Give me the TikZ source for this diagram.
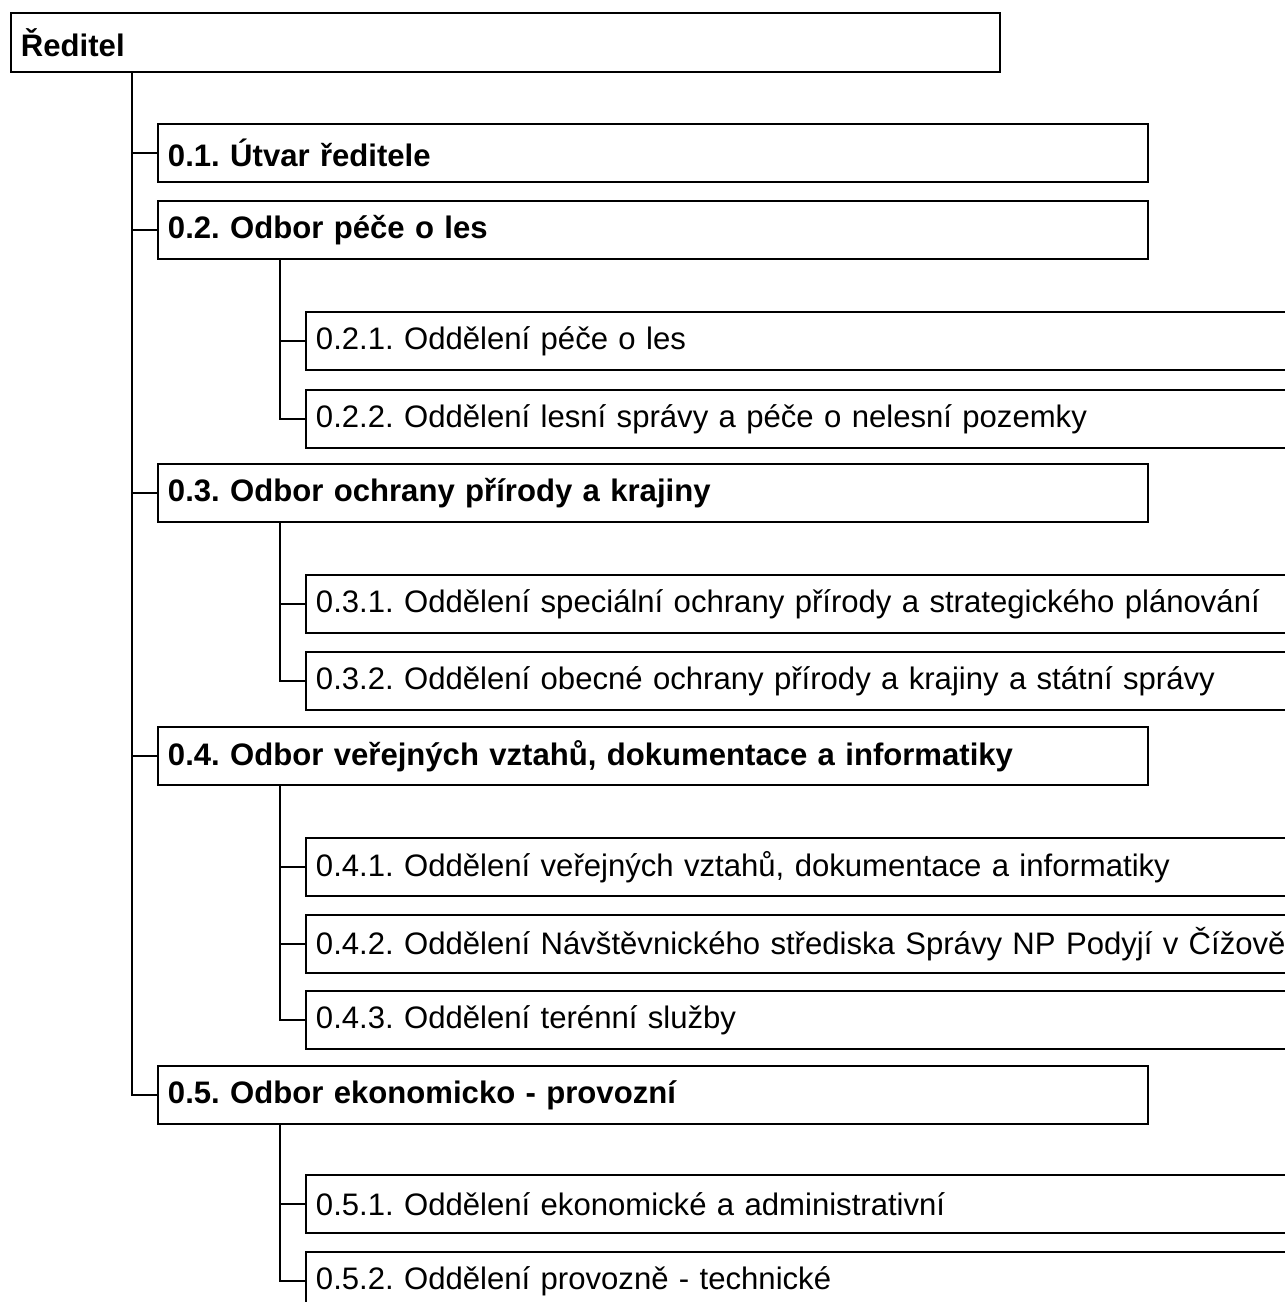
\documentclass[tikz,border=0pt]{standalone}
\usepackage{fontspec}
\setmainfont{Liberation Sans}

\tikzset{
  box/.style={draw, line width=1.1pt, anchor=north west, minimum height=1.16cm,
    inner xsep=0.2cm, align=left, font=\fontsize{17.7}{21}\selectfont\frenchspacing},
  vedeni/.style={box, text width=19.38cm, font=\fontsize{17.7}{21}\selectfont\bfseries},
  odbor/.style={box, text width=19.4cm, font=\fontsize{17.7}{21}\selectfont\bfseries\frenchspacing},
  oddeleni/.style={box, text width=21cm},
  link/.style={line width=1.1pt}
}

\begin{document}
\begin{tikzpicture}[x=0.02cm, y=-0.02cm]
  \clip (0,0) rectangle (1285,1302);

  % reditel
  \node[vedeni, minimum height=1.18cm] (dir) at (10,12) {Ředitel};

  % odbory
  \node[odbor] (u1) at (157,123) {0.1. Útvar ředitele};
  \node[odbor] (u2) at (157,200) {0.2. Odbor péče o les};
  \node[odbor] (u3) at (157,463) {0.3. Odbor ochrany přírody a krajiny};
  \node[odbor] (u4) at (157,726) {0.4. Odbor veřejných vztahů, dokumentace a informatiky};
  \node[odbor] (u5) at (157,1065) {0.5. Odbor ekonomicko - provozní};

  % oddeleni
  \node[oddeleni] (u21) at (305,311) {0.2.1. Oddělení péče o les};
  \node[oddeleni] (u22) at (305,389) {0.2.2. Oddělení lesní správy a péče o nelesní pozemky};
  \node[oddeleni] (u31) at (305,574) {0.3.1. Oddělení speciální ochrany přírody a strategického plánování};
  \node[oddeleni] (u32) at (305,651) {0.3.2. Oddělení obecné ochrany přírody a krajiny a státní správy};
  \node[oddeleni] (u41) at (305,837) {0.4.1. Oddělení veřejných vztahů, dokumentace a informatiky};
  \node[oddeleni] (u42) at (305,914) {0.4.2. Oddělení Návštěvnického střediska Správy NP Podyjí v Čížově};
  \node[oddeleni] (u43) at (305,990) {0.4.3. Oddělení terénní služby};
  \node[oddeleni] (u51) at (305,1174) {0.5.1. Oddělení ekonomické a administrativní};
  \node[oddeleni] (u52) at (305,1251) {0.5.2. Oddělení provozně - technické};

  % spojnice
  \draw[link] (dir.south west) ++(122,0) coordinate (t0) |- (u5.west);
  \foreach \u in {u1,u2,u3,u4}
    \draw[link] (\u.west) -- (t0 |- \u.west);

  \draw[link] (u2.south west) ++(123,0) coordinate (t2) |- (u22.west);
  \draw[link] (u21.west) -- (t2 |- u21.west);
  \draw[link] (u3.south west) ++(123,0) coordinate (t3) |- (u32.west);
  \draw[link] (u31.west) -- (t3 |- u31.west);
  \draw[link] (u4.south west) ++(123,0) coordinate (t4) |- (u43.west);
  \foreach \u in {u41,u42}
    \draw[link] (\u.west) -- (t4 |- \u.west);
  \draw[link] (u5.south west) ++(123,0) coordinate (t5) |- (u52.west);
  \draw[link] (u51.west) -- (t5 |- u51.west);
\end{tikzpicture}
\end{document}
